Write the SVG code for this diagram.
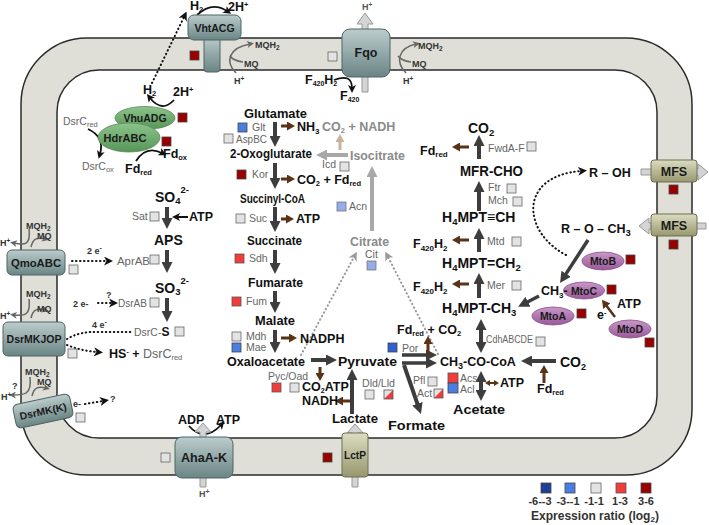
<svg xmlns="http://www.w3.org/2000/svg" width="709" height="525" viewBox="0 0 709 525">
<defs>
<linearGradient id="gT" x1="0" y1="0" x2="0" y2="1"><stop offset="0" stop-color="#bccccc"/><stop offset="1" stop-color="#6a8585"/></linearGradient>
<linearGradient id="gO" x1="0" y1="0" x2="0" y2="1"><stop offset="0" stop-color="#dcdcc2"/><stop offset="1" stop-color="#97976f"/></linearGradient>
<linearGradient id="gG" x1="0" y1="0" x2="0" y2="1"><stop offset="0" stop-color="#8cc48c"/><stop offset="1" stop-color="#579557"/></linearGradient>
<linearGradient id="gP" x1="0" y1="0" x2="0" y2="1"><stop offset="0" stop-color="#c898c8"/><stop offset="1" stop-color="#995a99"/></linearGradient>
<marker id="mD" viewBox="0 0 11 11" markerWidth="11" markerHeight="11" refX="1" refY="5.5" orient="auto-start-reverse" markerUnits="userSpaceOnUse"><path d="M0,0 L11,5.5 L0,11 z" fill="#3d3d3d"/></marker>
<marker id="mB" viewBox="0 0 8 9" markerWidth="8" markerHeight="9" refX="1" refY="4.5" orient="auto-start-reverse" markerUnits="userSpaceOnUse"><path d="M0,0 L8,4.5 L0,9 z" fill="#5a3216"/></marker>
<marker id="mBs" viewBox="0 0 5 6" markerWidth="5" markerHeight="6" refX="1" refY="3" orient="auto-start-reverse" markerUnits="userSpaceOnUse"><path d="M0,0 L5,3 L0,6 z" fill="#5a3216"/></marker>
<marker id="mL" viewBox="0 0 11 11" markerWidth="11" markerHeight="11" refX="1" refY="5.5" orient="auto" markerUnits="userSpaceOnUse"><path d="M0,0 L11,5.5 L0,11 z" fill="#a8a8a8"/></marker>
<marker id="mTn" viewBox="0 0 8 9" markerWidth="8" markerHeight="9" refX="1" refY="4.5" orient="auto" markerUnits="userSpaceOnUse"><path d="M0,0 L8,4.5 L0,9 z" fill="#c9b29a"/></marker>
<marker id="mK" viewBox="0 0 8 8" markerWidth="8" markerHeight="8" refX="3" refY="4" orient="auto" markerUnits="userSpaceOnUse"><path d="M0,0 L8,4 L0,8 L2,4 z" fill="#111"/></marker>
<marker id="mG" viewBox="0 0 7 7" markerWidth="7" markerHeight="7" refX="3" refY="3.5" orient="auto" markerUnits="userSpaceOnUse"><path d="M0,0 L7,3.5 L0,7 L2,3.5 z" fill="#666"/></marker>
<marker id="mDot" viewBox="0 0 9 9" markerWidth="9" markerHeight="9" refX="3" refY="4.5" orient="auto" markerUnits="userSpaceOnUse"><path d="M0,0 L9,4.5 L0,9 L2.5,4.5 z" fill="#111"/></marker>
<marker id="mDotG" viewBox="0 0 9 9" markerWidth="9" markerHeight="9" refX="3" refY="4.5" orient="auto" markerUnits="userSpaceOnUse"><path d="M0,0 L9,4.5 L0,9 L2.5,4.5 z" fill="#9a9a9a"/></marker>
</defs>
<style>
text { font-family: "Liberation Sans", Arial, sans-serif; }
.m { font-size:12.5px; font-weight:bold; fill:#111; }
.mb { font-size:14px; font-weight:bold; fill:#111; }
.mg { font-size:12.5px; font-weight:bold; fill:#8a8a8a; }
.e { font-size:10.5px; fill:#666; }
.p { font-weight:bold; fill:#1a1a1a; text-anchor:middle; }
.s { font-size:9px; font-weight:bold; fill:#333; }
.sg { font-size:9px; font-weight:bold; fill:#555; }
.q0 { fill:#e3e3e3; stroke:#666; stroke-width:0.8; }
.q1 { fill:#4a7ee0; stroke:#444; stroke-width:0.8; }
.q2 { fill:#1e3e96; stroke:#444; stroke-width:0.8; }
.q3 { fill:#f23c3c; stroke:#555; stroke-width:0.8; }
.q4 { fill:#990000; stroke:#444; stroke-width:0.8; }
.qL { fill:#94ace8; stroke:#777; stroke-width:0.8; }
.ad { stroke:#3d3d3d; stroke-width:4; fill:none; marker-end:url(#mD); }
.ad2 { stroke:#3d3d3d; stroke-width:4; fill:none; marker-end:url(#mD); marker-start:url(#mD); }
.ab { stroke:#5a3216; stroke-width:3; fill:none; marker-end:url(#mB); }
.al { stroke:#a8a8a8; stroke-width:4; fill:none; marker-end:url(#mL); }
.ak { stroke:#111; stroke-width:1.8; fill:none; marker-end:url(#mK); }
.ag { stroke:#666; stroke-width:1.5; fill:none; marker-end:url(#mG); }
.dk { stroke:#111; stroke-width:2; fill:none; stroke-dasharray:0.5 3.5; stroke-linecap:round; }
.dg { stroke:#9a9a9a; stroke-width:2; fill:none; stroke-dasharray:0.5 3.5; stroke-linecap:round; marker-end:url(#mDotG); }
.blk { fill:#d4d4d4; stroke:#999; stroke-width:1; }
.tp { fill:url(#gT); stroke:#4f6464; stroke-width:1; }
.ol { fill:url(#gO); stroke:#6e6e52; stroke-width:1; }
</style>

<!-- membrane -->
<g id="membrane">
<path fill-rule="evenodd" fill="#dfdfd8" stroke="#2b2b2b" stroke-width="1.5" d="M87 38 H626 A66 66 0 0 1 692 104 V409 A66 66 0 0 1 626 475 H87 A66 66 0 0 1 21 409 V104 A66 66 0 0 1 87 38 Z M99 70 H615 A42 42 0 0 1 657 112 V396 A42 42 0 0 1 615 438 H99 A42 42 0 0 1 57 396 V112 A42 42 0 0 1 99 70 Z"/>
<rect class="q4" x="190" y="51" width="9" height="9"/>
<rect class="q0" x="328" y="52" width="9" height="9"/>
<rect class="q4" x="323" y="453" width="9" height="9"/>
<rect class="q0" x="161" y="453" width="9" height="9"/>
</g>

<!-- connectors -->
<g id="connectors">
<!-- TCA column -->
<line class="ad" x1="275" y1="122" x2="275" y2="137"/>
<line class="ad" x1="275" y1="163" x2="275" y2="179"/>
<line class="ad" x1="275" y1="207" x2="275" y2="222"/>
<line class="ad" x1="275" y1="250" x2="275" y2="264"/>
<line class="ad" x1="275" y1="291" x2="275" y2="303"/>
<line class="ad" x1="275" y1="330" x2="275" y2="343"/>
<line class="ab" x1="281" y1="126" x2="288" y2="126"/>
<line class="ab" x1="281" y1="179" x2="288" y2="179"/>
<line class="ab" x1="281" y1="219" x2="287" y2="219"/>
<line class="ab" x1="281" y1="338" x2="290" y2="338"/>
<!-- grey branch -->
<line class="al" x1="348" y1="155" x2="326" y2="155"/>
<line class="al" x1="372" y1="231" x2="372" y2="176"/>
<line stroke="#c9b29a" stroke-width="3" marker-end="url(#mTn)" x1="340" y1="150" x2="340" y2="141"/>
<path class="dg" d="M301 355 L354 257"/>
<path class="dg" d="M438 354 L388 257"/>
<!-- sulfur column -->
<line class="ad" x1="167" y1="207" x2="167" y2="219"/>
<line class="ad" x1="167" y1="250" x2="167" y2="263"/>
<line class="ad" x1="167" y1="298" x2="167" y2="312"/>
<line stroke="#111" stroke-width="2" marker-end="url(#mK)" x1="188" y1="217" x2="177" y2="217"/>
<!-- methanogenic column -->
<line class="ad" x1="479" y1="159" x2="479" y2="145"/>
<line class="ad" x1="479" y1="211" x2="479" y2="191"/>
<line class="ad" x1="479" y1="252" x2="479" y2="238"/>
<line class="ad" x1="479" y1="298" x2="479" y2="283"/>
<line class="ad2" x1="481" y1="329" x2="481" y2="343"/>
<line class="ad2" x1="481" y1="381" x2="481" y2="391"/>
<line class="ab" x1="469" y1="147" x2="459" y2="147"/>
<line class="ab" x1="469" y1="240" x2="459" y2="240"/>
<line class="ab" x1="469" y1="284" x2="459" y2="284"/>
<!-- bottom row -->
<line class="ad" x1="311" y1="360" x2="327" y2="360"/>
<line class="ad" x1="352" y1="414" x2="352" y2="379"/>
<line class="ad" style="stroke-width:3.5" x1="402" y1="355" x2="427" y2="355"/>
<line class="ad" style="stroke-width:3.5" x1="402" y1="363" x2="427" y2="363"/>
<line class="ad" x1="404" y1="365" x2="417.7" y2="404.6"/>
<line class="ad" x1="556" y1="361" x2="531" y2="361"/>
<line class="ab" x1="320" y1="367" x2="320" y2="374"/>
<line class="ab" x1="350" y1="401" x2="342" y2="401"/>
<line class="ab" x1="428" y1="355" x2="428" y2="343"/>
<line stroke="#5a3216" stroke-width="2" marker-start="url(#mBs)" marker-end="url(#mBs)" x1="489" y1="383" x2="495" y2="383"/>
<line class="ab" x1="544" y1="383" x2="544" y2="372"/>
<!-- methoxy -->
<line class="ad" style="stroke-width:3.5" x1="588" y1="240" x2="565.5" y2="274.6"/>
<line class="ad" style="stroke-width:3.5" x1="539" y1="296" x2="527" y2="302.2"/>
<line class="ab" style="stroke-width:2.5" x1="615" y1="317" x2="606.2" y2="305.4"/>
<path class="dk" marker-end="url(#mDot)" d="M566 255 C522 232 518 176 581 171"/>
<!-- hydrogen / electron -->
<path class="dk" marker-end="url(#mDot)" d="M152 83 L184 17"/>
<path class="ak" d="M197 15 Q212 1 227 11"/>
<path class="ak" d="M174 100 Q162 113 150 98"/>
<path class="ak" d="M88 129 Q105 137 100 154"/>
<path class="ak" d="M136 161 Q146 145 162 153"/>
<path class="ak" d="M334 80 Q352 73 352 88"/>
<path class="ak" d="M189 426 Q204 443 221 425"/>
<path class="dk" marker-end="url(#mDot)" d="M72 261 L107 261"/>
<path class="dk" marker-end="url(#mDot)" d="M98 303 L112 303"/>
<path class="dk" d="M67 339 Q80 331 100 332 L132 332"/>
<path class="dk" marker-end="url(#mDot)" d="M67 345 Q82 351 97 352"/>
<path class="dk" marker-end="url(#mDot)" d="M85 404 L103 401"/>
<!-- quinone arcs -->
<path class="ag" d="M236 73 C225 62 228 48 250 44"/>
<path stroke="#666" stroke-width="1.5" fill="none" d="M243 62 C236 61 232 59 230 56"/>
<path class="ag" d="M406 73 C395 62 398 48 416 44"/>
<path stroke="#666" stroke-width="1.5" fill="none" d="M411 62 C404 61 400 59 398 56"/>
<path class="ag" d="M29 229 C31 246 24 245 14 243"/>
<path class="ag" d="M31 247 C33 238 38 237 45 239"/>
<path class="ag" d="M29 299 C31 316 24 316 14 315"/>
<path class="ag" d="M31 318 C33 309 38 308 45 310"/>
<path class="ag" d="M30 377 C32 395 24 395 13 395"/>
<path class="ag" d="M32 396 C34 387 39 386 46 388"/>
</g>

<!-- transport block arrows -->
<g id="transport-arrows">
<polygon class="blk" points="362,92 368,92 368,24 373,24 365,13 357,24 362,24"/>
<polygon class="blk" points="200,487 206,487 206,432 211,432 203,423 195,432 200,432"/>
<polygon class="blk" points="352,487 358,487 358,433 363,433 355,424 347,433 352,433"/>
<polygon class="blk" points="641,169 698,169 698,164 708,172 698,180 698,175 641,175"/>
<polygon class="blk" points="706,223 649,223 649,218 639,226 649,234 649,229 706,229"/>
</g>

<!-- membrane proteins -->
<g id="VhtACG">
<rect class="tp" x="204" y="36" width="16" height="36" rx="3"/>
<rect class="tp" x="188" y="15" width="53" height="25" rx="6"/>
<text class="p" x="214.5" y="31.5" font-size="10.5">VhtACG</text>
</g>
<g id="Fqo">
<rect class="tp" x="342" y="29" width="48" height="48" rx="8"/>
<text class="p" x="366" y="57" font-size="12.5">Fqo</text>
</g>
<g id="QmoABC">
<rect class="tp" x="7" y="250" width="58" height="25" rx="5"/>
<text class="p" x="36" y="267" font-size="11.3">QmoABC</text>
<rect class="q0" x="69" y="265" width="9" height="9"/>
</g>
<g id="DsrMKJOP">
<rect class="tp" x="3" y="322" width="62" height="34" rx="5"/>
<text class="p" x="34" y="343" font-size="10.5">DsrMKJOP</text>
<rect class="q0" x="68" y="349" width="9" height="9"/>
</g>
<g id="DsrMKK">
<g transform="rotate(-12 43 411)">
<rect class="tp" x="14" y="399" width="58" height="24" rx="5"/>
<text class="p" x="43" y="415" font-size="10.4">DsrMK(K)</text>
</g>
<rect class="q0" x="76" y="413" width="9" height="9"/>
</g>
<g id="AhaA-K">
<rect class="tp" x="175" y="437" width="58" height="41" rx="7"/>
<text class="p" x="204" y="462" font-size="12.5">AhaA-K</text>
</g>
<g id="LctP">
<rect class="ol" x="342" y="433" width="26" height="44" rx="3"/>
<text class="p" x="355" y="459" font-size="10.5" textLength="22" lengthAdjust="spacingAndGlyphs">LctP</text>
</g>
<g id="MFS1">
<rect class="ol" x="651" y="160" width="46" height="22" rx="3"/>
<text class="p" x="674" y="176" font-size="12.5">MFS</text>
<rect class="q4" x="669" y="185" width="9" height="9"/>
</g>
<g id="MFS2">
<rect class="ol" x="651" y="214" width="46" height="22" rx="3"/>
<text class="p" x="674" y="230" font-size="12.5">MFS</text>
<rect class="q4" x="669" y="240" width="9" height="9"/>
</g>

<!-- cytoplasmic complexes -->
<g id="VhuADG">
<ellipse cx="145" cy="118" rx="30" ry="11.5" fill="url(#gG)" stroke="#5a8a5a" stroke-width="0.8"/>
<text class="p" x="145" y="122" font-size="10.5">VhuADG</text>
<rect class="q4" x="178" y="113" width="9" height="9"/>
</g>
<g id="HdrABC">
<ellipse cx="129" cy="137.5" rx="31" ry="14.5" fill="url(#gG)" stroke="#5a8a5a" stroke-width="0.8"/>
<text class="p" x="125" y="142" font-size="11">HdrABC</text>
<rect class="q4" x="162" y="137" width="9" height="9"/>
</g>
<g id="MtoB">
<ellipse cx="603" cy="261" rx="21" ry="9" fill="url(#gP)" stroke="#8a4e8a" stroke-width="0.8"/>
<text class="p" x="603" y="265" font-size="10.5">MtoB</text>
<rect class="q4" x="626" y="255" width="9" height="9"/>
</g>
<g id="MtoC">
<ellipse cx="584" cy="290.5" rx="20.5" ry="8.5" fill="url(#gP)" stroke="#8a4e8a" stroke-width="0.8"/>
<text class="p" x="584" y="294.5" font-size="10.5">MtoC</text>
<rect class="q4" x="607" y="285" width="9" height="9"/>
</g>
<g id="MtoA">
<ellipse cx="553" cy="316" rx="21" ry="9" fill="url(#gP)" stroke="#8a4e8a" stroke-width="0.8"/>
<text class="p" x="553" y="320" font-size="10.5">MtoA</text>
<rect class="q4" x="577" y="309" width="9" height="9"/>
</g>
<g id="MtoD">
<ellipse cx="630" cy="329" rx="21" ry="9" fill="url(#gP)" stroke="#8a4e8a" stroke-width="0.8"/>
<text class="p" x="630" y="333" font-size="10.5">MtoD</text>
<rect class="q4" x="645" y="338" width="9" height="9"/>
</g>

<!-- membrane-side labels -->
<g id="labels-membrane">
<text class="m" x="190" y="10" font-size="11">H<tspan font-size="7.5" dy="2">2</tspan></text>
<text class="m" x="228" y="11" font-size="11">2H<tspan font-size="7.5" dy="-4">+</tspan></text>
<text class="s" x="255" y="48">MQH<tspan font-size="6.5" dy="2">2</tspan></text>
<text class="s" x="244" y="67">MQ</text>
<text class="s" x="234" y="84">H<tspan font-size="6.5" dy="-3">+</tspan></text>
<text class="sg" x="362" y="10">H<tspan font-size="6.5" dy="-3">+</tspan></text>
<text class="s" x="418" y="49">MQH<tspan font-size="6.5" dy="2">2</tspan></text>
<text class="s" x="412" y="67">MQ</text>
<text class="s" x="403" y="84">H<tspan font-size="6.5" dy="-3">+</tspan></text>
<text class="m" x="305" y="84" font-size="11">F<tspan font-size="7" dy="2">420</tspan><tspan dy="-2">H</tspan><tspan font-size="7" dy="2">2</tspan></text>
<text class="m" x="340" y="100" font-size="11">F<tspan font-size="7" dy="2">420</tspan></text>
<text class="m" x="143" y="94" font-size="11">H<tspan font-size="7.5" dy="2">2</tspan></text>
<text class="m" x="173" y="96" font-size="11">2H<tspan font-size="7.5" dy="-4">+</tspan></text>
<text class="e" x="63" y="125" font-size="11">DsrC<tspan font-size="7.5" dy="2">red</tspan></text>
<text class="e" x="82" y="170" font-size="11">DsrC<tspan font-size="7.5" dy="2">ox</tspan></text>
<text class="m" x="125" y="173" font-size="11.5">Fd<tspan font-size="7.5" dy="2">red</tspan></text>
<text class="m" x="163" y="158" font-size="11.5">Fd<tspan font-size="7.5" dy="2">ox</tspan></text>
<text class="s" x="26" y="229">MQH<tspan font-size="6.5" dy="2">2</tspan></text>
<text class="s" x="37" y="239">MQ</text>
<text class="s" x="0" y="246">H<tspan font-size="6.5" dy="-3">+</tspan></text>
<text class="s" x="26" y="297">MQH<tspan font-size="6.5" dy="2">2</tspan></text>
<text class="s" x="37" y="312">MQ</text>
<text class="s" x="0" y="319">H<tspan font-size="6.5" dy="-3">+</tspan></text>
<text class="s" x="25" y="375">MQH<tspan font-size="6.5" dy="2">2</tspan></text>
<text class="s" x="37" y="385">MQ</text>
<text class="s" x="12" y="389" font-size="10">?</text>
<text class="s" x="1" y="400">H<tspan font-size="6.5" dy="-3">+</tspan></text>
<text class="s" x="73" y="407" font-size="10">e-</text>
<text class="s" x="110" y="402" font-size="11">?</text>
<text class="s" x="87" y="254" font-size="11">2 e<tspan font-size="7" dy="-4">-</tspan></text>
<text class="s" x="73" y="307" font-size="11">2 e-</text>
<text class="s" x="106" y="298" font-size="10">?</text>
<text class="s" x="92" y="328" font-size="11">4 e<tspan font-size="7" dy="-4">-</tspan></text>
<text class="m" x="178" y="424" font-size="10.5">ADP</text>
<text class="m" x="216" y="424" font-size="10.5">ATP</text>
<text class="sg" x="199" y="497" font-size="10">H<tspan font-size="7" dy="-3">+</tspan></text>
<text class="m" x="589" y="177" font-size="14">R – OH</text>
<text class="m" x="561" y="233" font-size="14">R – O – CH<tspan font-size="9.5" dy="3">3</tspan></text>
<text class="m" x="541" y="295" font-size="12">CH<tspan font-size="8" dy="3">3</tspan><tspan dy="-3">-</tspan></text>
<text class="m" x="617" y="308" font-size="9">ATP</text>
<text class="m" x="597" y="319" font-size="10">e<tspan font-size="7" dy="-4">-</tspan></text>
</g>

<!-- sulfur pathway -->
<g id="sulfur">
<text class="mb" x="155" y="202">SO<tspan font-size="9.5" dy="2">4</tspan><tspan font-size="9.5" dy="-11">2-</tspan></text>
<text class="e" x="132" y="220">Sat</text>
<rect class="q0" x="150" y="212" width="9" height="9"/>
<text class="m" x="189" y="221" font-size="9.5">ATP</text>
<text class="mb" x="154" y="245" font-size="13.5">APS</text>
<text class="e" x="117" y="265" font-size="11" textLength="33" lengthAdjust="spacingAndGlyphs">AprAB</text>
<rect class="q0" x="150" y="255" width="9" height="9"/>
<text class="mb" x="155" y="293">SO<tspan font-size="9.5" dy="2">3</tspan><tspan font-size="9.5" dy="-11">2-</tspan></text>
<text class="e" x="118" y="307" textLength="29" lengthAdjust="spacingAndGlyphs">DsrAB</text>
<rect class="q0" x="150" y="298" width="9" height="9"/>
<text class="e" x="134" y="336" font-size="11">DsrC-<tspan font-weight="bold" fill="#111" font-size="12">S</tspan></text>
<rect class="q0" x="175" y="327" width="9" height="9"/>
<text class="m" x="109" y="358" font-size="11">HS<tspan font-size="7" dy="-4">-</tspan><tspan dy="4"> + </tspan><tspan font-weight="normal" fill="#666">DsrC</tspan><tspan font-weight="normal" fill="#666" font-size="7.5" dy="2">red</tspan></text>
</g>

<!-- TCA / central -->
<g id="central">
<text class="m" x="244" y="118" font-size="13" textLength="63" lengthAdjust="spacingAndGlyphs">Glutamate</text>
<rect class="q1" x="238" y="123" width="9" height="9"/>
<text class="e" x="252" y="131">Glt</text>
<rect class="q0" x="224" y="134" width="9" height="9"/>
<text class="e" x="236" y="143" textLength="31" lengthAdjust="spacingAndGlyphs">AspBC</text>
<text class="m" x="297" y="131" font-size="12">NH<tspan font-size="8" dy="3">3</tspan></text>
<text class="m" x="230" y="158" textLength="82" lengthAdjust="spacingAndGlyphs">2-Oxoglutarate</text>
<rect class="q4" x="237" y="170" width="9" height="9"/>
<text class="e" x="252" y="178">Kor</text>
<text class="m" x="297" y="184" font-size="11">CO<tspan font-size="7.5" dy="2">2</tspan><tspan dy="-2"> + Fd</tspan><tspan font-size="7.5" dy="2">red</tspan></text>
<text class="m" x="240" y="203" textLength="65" lengthAdjust="spacingAndGlyphs">Succinyl-CoA</text>
<rect class="q0" x="236" y="214" width="9" height="9"/>
<text class="e" x="249" y="222">Suc</text>
<text class="m" x="296" y="223" font-size="9.5">ATP</text>
<text class="m" x="247" y="245" textLength="55" lengthAdjust="spacingAndGlyphs">Succinate</text>
<rect class="q3" x="235" y="254" width="9" height="9"/>
<text class="e" x="249" y="262">Sdh</text>
<text class="m" x="248" y="287" textLength="55" lengthAdjust="spacingAndGlyphs">Fumarate</text>
<rect class="q3" x="232" y="297" width="9" height="9"/>
<text class="e" x="246" y="305">Fum</text>
<text class="m" x="255" y="325" textLength="40" lengthAdjust="spacingAndGlyphs">Malate</text>
<rect class="q0" x="232" y="332" width="9" height="9"/>
<text class="e" x="246" y="340">Mdh</text>
<rect class="q1" x="232" y="343" width="9" height="9"/>
<text class="e" x="246" y="351">Mae</text>
<text class="m" x="300" y="343" font-size="11">NADPH</text>
<text class="m" x="227" y="366" textLength="78" lengthAdjust="spacingAndGlyphs">Oxaloacetate</text>
<text class="e" x="268" y="380" font-size="10" textLength="40" lengthAdjust="spacingAndGlyphs">Pyc/Oad</text>
<rect class="q3" x="272" y="383" width="9" height="9"/>
<rect class="q0" x="290" y="383" width="9" height="9"/>
<text class="m" x="302" y="391" font-size="10.5">CO<tspan font-size="7" dy="2">2</tspan><tspan dy="-2">ATP</tspan></text>
<text class="m" x="302" y="405" font-size="10.5">NADH</text>
<text class="m" x="338" y="366" textLength="59" lengthAdjust="spacingAndGlyphs">Pyruvate</text>
<text class="m" x="332" y="423" textLength="46" lengthAdjust="spacingAndGlyphs">Lactate</text>
<text class="e" x="362" y="387" textLength="33" lengthAdjust="spacingAndGlyphs">Dld/Lld</text>
<rect class="q0" x="365" y="390" width="9" height="9"/>
<polygon fill="#e3e3e3" points="384,390 393,390 384,399"/>
<polygon fill="#f23c3c" points="393,390 393,399 384,399"/>
<rect x="384" y="390" width="9" height="9" fill="none" stroke="#555" stroke-width="0.8"/>
<text class="m" x="388" y="430" textLength="57" lengthAdjust="spacingAndGlyphs">Formate</text>
<text class="e" x="413" y="384">Pfl</text>
<rect class="q0" x="428" y="377" width="9" height="9"/>
<text class="e" x="417" y="397">Act</text>
<polygon fill="#e3e3e3" points="434,389 443,389 434,398"/>
<polygon fill="#f23c3c" points="443,389 443,398 434,398"/>
<rect x="434" y="389" width="9" height="9" fill="none" stroke="#555" stroke-width="0.8"/>
<text class="m" x="397" y="334" font-size="11">Fd<tspan font-size="7.5" dy="2">red</tspan><tspan dy="-2"> + CO</tspan><tspan font-size="7.5" dy="2">2</tspan></text>
<rect class="q1" x="388" y="343" width="9" height="9" style="fill:#2f5fd0"/>
<text class="e" x="402" y="352">Por</text>
<text class="mg" x="322" y="131" font-size="11">CO<tspan font-size="7.5" dy="2">2</tspan><tspan dy="-2"> + NADH</tspan></text>
<text class="mg" x="350" y="160" textLength="55" lengthAdjust="spacingAndGlyphs">Isocitrate</text>
<text class="e" x="322" y="168">Icd</text>
<rect class="q0" x="340" y="162" width="9" height="9"/>
<rect class="qL" x="337" y="202" width="9" height="9"/>
<text class="e" x="349" y="210">Acn</text>
<text class="mg" x="350" y="246" textLength="39" lengthAdjust="spacingAndGlyphs">Citrate</text>
<text class="e" x="365" y="258">Cit</text>
<rect class="qL" x="367" y="261" width="9" height="9"/>
</g>

<!-- methanogenic-like pathway -->
<g id="wood-ljungdahl">
<text class="mb" x="468" y="133">CO<tspan font-size="9.5" dy="3">2</tspan></text>
<text class="m" x="420" y="155" font-size="12">Fd<tspan font-size="8" dy="2">red</tspan></text>
<text class="e" x="488" y="152">FwdA-F</text>
<rect class="q0" x="527" y="142" width="9" height="9"/>
<text class="mb" x="460" y="176" textLength="63" lengthAdjust="spacingAndGlyphs">MFR-CHO</text>
<text class="e" x="488" y="191">Ftr</text>
<rect class="q0" x="507" y="184" width="9" height="9"/>
<text class="e" x="488" y="204">Mch</text>
<rect class="q0" x="513" y="197" width="9" height="9"/>
<text class="mb" x="442" y="222">H<tspan font-size="9.5" dy="3">4</tspan><tspan dy="-3">MPT≡CH</tspan></text>
<text class="m" x="413" y="248" font-size="12.5">F<tspan font-size="8" dy="3">420</tspan><tspan dy="-3">H</tspan><tspan font-size="8" dy="3">2</tspan></text>
<text class="e" x="487" y="245">Mtd</text>
<rect class="q0" x="512" y="237" width="9" height="9"/>
<text class="mb" x="442" y="268">H<tspan font-size="9.5" dy="3">4</tspan><tspan dy="-3">MPT=CH</tspan><tspan font-size="9.5" dy="3">2</tspan></text>
<text class="m" x="413" y="291" font-size="12.5">F<tspan font-size="8" dy="3">420</tspan><tspan dy="-3">H</tspan><tspan font-size="8" dy="3">2</tspan></text>
<text class="e" x="487" y="289">Mer</text>
<rect class="q0" x="512" y="281" width="9" height="9"/>
<text class="mb" x="442" y="313">H<tspan font-size="9.5" dy="3">4</tspan><tspan dy="-3">MPT-CH</tspan><tspan font-size="9.5" dy="3">3</tspan></text>
<text class="e" x="486" y="343" textLength="47" lengthAdjust="spacingAndGlyphs">CdhABCDE</text>
<rect class="q0" x="536" y="337" width="9" height="9"/>
<text class="m" x="440" y="366" font-size="13">CH<tspan font-size="9" dy="3">3</tspan><tspan dy="-3">-CO-CoA</tspan></text>
<rect class="q3" x="448" y="373" width="10" height="10"/>
<rect class="q1" x="448" y="383" width="10" height="10"/>
<text class="e" x="460" y="382">Acs</text>
<text class="e" x="460" y="393">Acl</text>
<text class="m" x="500" y="387" font-size="9.5">ATP</text>
<text class="m" x="453" y="414" textLength="52" lengthAdjust="spacingAndGlyphs">Acetate</text>
<text class="mb" x="560" y="367" font-size="13.5">CO<tspan font-size="9" dy="3">2</tspan></text>
<text class="m" x="537" y="393" font-size="11.5">Fd<tspan font-size="7.5" dy="2">red</tspan></text>
</g>

<!-- legend -->
<g id="legend">
<rect class="q2" x="541" y="483" width="10" height="10"/>
<rect class="q1" x="565" y="483" width="10" height="10"/>
<rect class="q0" x="591" y="483" width="10" height="10"/>
<rect class="q3" x="616" y="483" width="10" height="10"/>
<rect class="q4" x="641" y="483" width="10" height="10"/>
<g font-size="11" font-weight="bold" fill="#333" text-anchor="middle">
<text x="540" y="505">-6--3</text>
<text x="568" y="505">-3--1</text>
<text x="594" y="505">-1-1</text>
<text x="620" y="505">1-3</text>
<text x="646" y="505">3-6</text>
</g>
<text x="595" y="520" text-anchor="middle" font-size="12" font-weight="bold" fill="#333">Expression ratio (log<tspan font-size="8" dy="2">2</tspan><tspan dy="-2">)</tspan></text>
</g>
</svg>
